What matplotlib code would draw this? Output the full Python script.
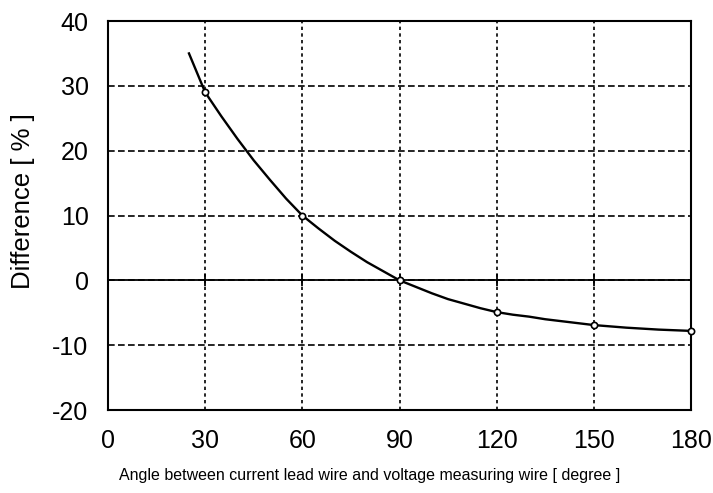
import numpy as np
import matplotlib.pyplot as plt

plt.rcParams['font.family'] = ['Liberation Sans', 'DejaVu Sans']
plt.rcParams['axes.unicode_minus'] = False

# measured points (open circles)
angle = [30, 60, 90, 120, 150, 180]
diff = [29.0, 10.0, 0.0, -4.9, -6.9, -7.8]

# fitted curve
curve_angle = [25, 27.5, 30, 35, 40, 45, 50, 55, 60, 65, 70, 75, 80, 85, 90,
               95, 100, 105, 110, 115, 120, 125, 130, 135, 140, 145, 150,
               155, 160, 165, 170, 175, 180]
curve_diff = [35.0, 32.0, 29.0, 25.3, 21.8, 18.5, 15.5, 12.6, 10.0, 8.0, 6.1, 4.4, 2.8, 1.4, 0.0,
              -1.0, -2.0, -2.9, -3.6, -4.3, -4.9, -5.3, -5.6, -6.0, -6.3, -6.6, -6.9,
              -7.1, -7.3, -7.45, -7.6, -7.7, -7.8]

xticks = [0, 30, 60, 90, 120, 150, 180]
yticks = [-20, -10, 0, 10, 20, 30, 40]

fig = plt.figure(figsize=(7.13, 4.93), dpi=100)
ax = fig.add_axes([108/713, 1 - 410/493, 583/713, 389/493])

ax.set_xlim(0, 180)
ax.set_ylim(-20, 40)
ax.set_xticks(xticks)
ax.set_yticks(yticks)

ax.xaxis.grid(True, color='black', linestyle=(0, (2, 2)), linewidth=1.2)
ax.yaxis.grid(True, color='black', linestyle=(0, (4, 2)), linewidth=1.2)
ax.axhline(0, color='black', linewidth=1.3)
ax.plot(xticks[1:-1], [0] * (len(xticks) - 2), linestyle='none', marker='|',
        markersize=8, color='black', markeredgewidth=1.3)

ax.plot(curve_angle, curve_diff, color='black', linewidth=1.7,
        solid_joinstyle='round')
ax.plot(angle, diff, linestyle='none', marker='o', markersize=4.5,
        markerfacecolor='white', markeredgecolor='black', markeredgewidth=1.2,
        clip_on=False, zorder=5)

for s in ax.spines.values():
    s.set_linewidth(1.5)
ax.tick_params(axis='both', length=0, labelsize=18)
ax.tick_params(axis='x', pad=14)
ax.tick_params(axis='y', pad=14)

ax.set_ylabel('Difference [ % ]', fontsize=18.5)
ax.yaxis.set_label_coords(-0.125, 0.537)
ax.set_xlabel('Angle between current lead wire and voltage measuring wire [ degree ]',
              fontsize=11.5)
ax.xaxis.set_label_coords(0.448, -0.149)

fig.savefig('out.png', dpi=100)
